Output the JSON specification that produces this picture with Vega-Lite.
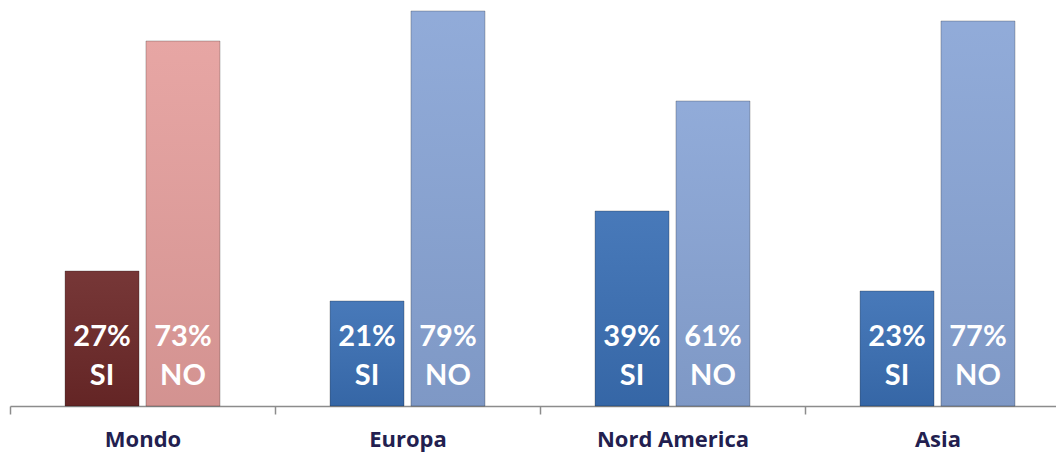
{
  "$schema": "https://vega.github.io/schema/vega-lite/v6.json",
  "width": 1046,
  "height": 400,
  "autosize": {"type": "none"},
  "padding": {"left": 10, "top": 6, "right": 0, "bottom": 46},
  "background": "white",
  "config": {"view": {"stroke": null}},
  "data": {
    "values": [
      {"region": "Mondo", "answer": "SI", "share": 0.27},
      {"region": "Mondo", "answer": "NO", "share": 0.73},
      {"region": "Europa", "answer": "SI", "share": 0.21},
      {"region": "Europa", "answer": "NO", "share": 0.79},
      {"region": "Nord America", "answer": "SI", "share": 0.39},
      {"region": "Nord America", "answer": "NO", "share": 0.61},
      {"region": "Asia", "answer": "SI", "share": 0.23},
      {"region": "Asia", "answer": "NO", "share": 0.77}
    ]
  },
  "encoding": {
    "x": {
      "field": "region",
      "type": "nominal",
      "sort": ["Mondo", "Europa", "Nord America", "Asia"],
      "scale": {"range": [0, 1060], "paddingInner": 0, "paddingOuter": 0},
      "axis": {
        "title": null,
        "labelAngle": 0,
        "tickBand": "extent",
        "domainColor": "#8C8C8C",
        "domainWidth": 1.5,
        "tickColor": "#8C8C8C",
        "tickWidth": 1.5,
        "tickSize": 8,
        "labelFont": "Open Sans",
        "labelFontWeight": "bold",
        "labelFontSize": 22,
        "labelColor": "#231F50",
        "labelBaseline": "alphabetic",
        "labelPadding": 32
      }
    },
    "xOffset": {
      "field": "answer",
      "type": "nominal",
      "sort": ["SI", "NO"],
      "scale": {"paddingInner": 0.086, "paddingOuter": 0.68}
    },
    "y": {
      "field": "share",
      "type": "quantitative",
      "scale": {"domain": [0, 0.8], "nice": false},
      "axis": null
    }
  },
  "layer": [
    {
      "mark": {"type": "bar", "stroke": "#000000", "strokeOpacity": 0.25, "strokeWidth": 1},
      "encoding": {
        "color": {
          "condition": [
            {"test": "datum.region === 'Mondo' && datum.answer === 'SI'", "value": "#6C2828"},
            {"test": "datum.region === 'Mondo' && datum.answer === 'NO'", "value": "#E59F9D"},
            {"test": "datum.answer === 'SI'", "value": "#3A6FB4"}
          ],
          "value": "#89A5D6"
        }
      }
    },
    {
      "mark": {
        "type": "bar",
        "color": {
          "gradient": "linear",
          "x1": 0, "y1": 0, "x2": 0, "y2": 1,
          "stops": [
            {"offset": 0, "color": "rgba(255,255,255,0.07)"},
            {"offset": 1, "color": "rgba(0,0,0,0.08)"}
          ]
        }
      }
    },
    {
      "mark": {"type": "text", "font": "Lato", "fontWeight": "bold", "fontSize": 29, "color": "white", "baseline": "middle"},
      "encoding": {
        "y": {"datum": 0.138, "type": "quantitative"},
        "text": {"field": "share", "type": "quantitative", "format": ".0%"}
      }
    },
    {
      "mark": {"type": "text", "font": "Lato", "fontWeight": "bold", "fontSize": 29, "color": "white", "baseline": "middle"},
      "encoding": {
        "y": {"datum": 0.06, "type": "quantitative"},
        "text": {"field": "answer", "type": "nominal"}
      }
    }
  ]
}
